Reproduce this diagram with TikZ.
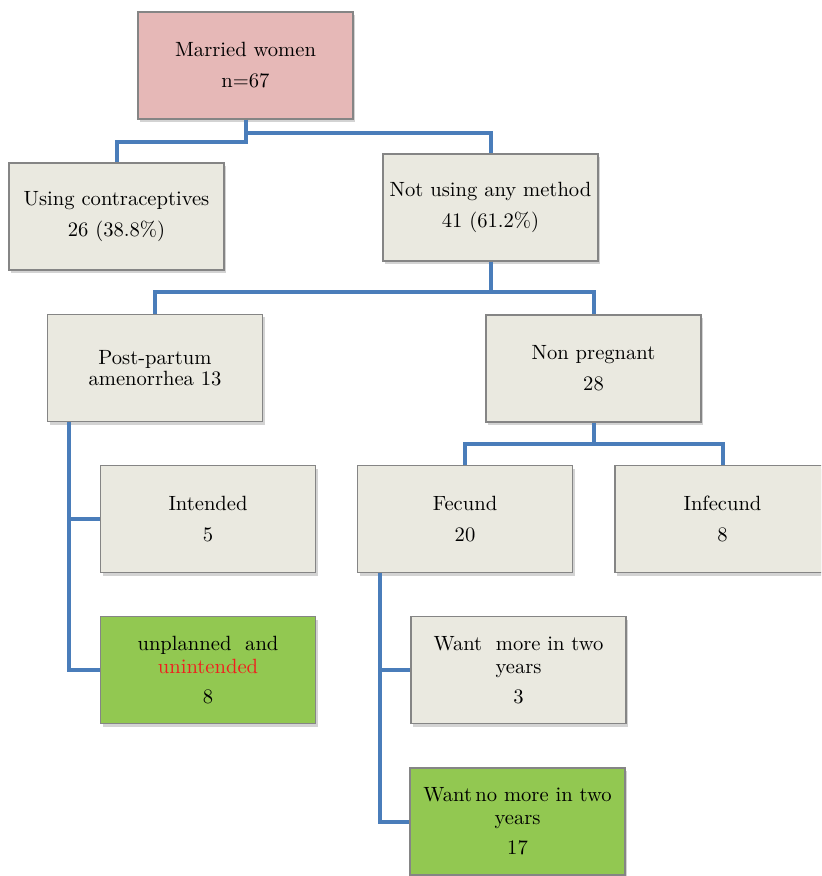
\documentclass[tikz,border=0pt]{standalone}
\usetikzlibrary{calc,shadows}
\definecolor{boxgrey}{HTML}{EAE9E0}
\definecolor{boxpink}{HTML}{E6B8B7}
\definecolor{boxgreen}{HTML}{92C851}
\definecolor{boxline}{HTML}{858585}
\definecolor{linkblue}{HTML}{4A7DBA}
\definecolor{txtred}{HTML}{F01E1E}
\begin{document}
\begin{tikzpicture}[x=0.5pt,y=-0.5pt,
  box/.style={draw=boxline,line width=0.6pt,fill=boxgrey,
    minimum width=107.5pt,minimum height=53.5pt,inner sep=0pt,align=center,
    font=\fontsize{10.3}{11.5}\selectfont,
    drop shadow={shadow xshift=1pt,shadow yshift=-1.5pt,opacity=0.35}},
  link/.style={draw=linkblue,line width=2pt}]
\clip (0,0) rectangle (821,876);
%top
\node[box,fill=boxpink] (married) at (245.5,65.5) {Married women\\[4pt]n=67};
%level 1
\node[box] (using) at (116.5,216.5) {Using contraceptives\\[4pt]26 (38.8\%)};
\node[box] (notusing) at (490.5,207.5) {Not using any method\\[4pt]41 (61.2\%)};
%level 2
\node[box] (postpartum) at (155,368) {Post-partum\\[-0.7pt]amenorrhea 13};
\node[box] (nonpreg) at (593.5,368.5) {Non pregnant\\[4pt]28};
%level 3
\node[box] (intended) at (208,519) {Intended\\[4pt]5};
\node[box] (fecund) at (465,519) {Fecund\\[4pt]20};
\node[box] (infecund) at (722.5,519) {Infecund\\[4pt]8};
%level 4
\node[box,fill=boxgreen] (unplanned) at (208,670)
  {unplanned~ and\\\textcolor{txtred}{unintended}\\[3.5pt]8};
\node[box] (wantmore) at (518.5,670) {Want~ more in two\\years\\[3.5pt]3};
\node[box,fill=boxgreen] (wantno) at (517.5,821.5)
  {Want\,no more in two\\years\\[3.5pt]17};

\draw[link] (married.south) -- ++(0,13) -| (notusing.north);
\draw[link] (married.south) -- ++(0,22) -| (using.north);
\draw[link] (notusing.south) -- ++(0,30) -| (postpartum.north);
\draw[link] (notusing.south) -- ++(0,30) -| (nonpreg.north);
\draw[link] (nonpreg.south) -- ++(0,21) -| (fecund.north);
\draw[link] (nonpreg.south) -- ++(0,21) -| (infecund.north);
\coordinate (ppdrop) at ($(postpartum.south west)+(22,0)$);
\draw[link] (ppdrop) |- (intended.west);
\draw[link] (ppdrop) |- (unplanned.west);
\coordinate (fcdrop) at ($(fecund.south west)+(23,0)$);
\draw[link] (fcdrop) |- (wantmore.west);
\draw[link] (fcdrop) |- (wantno.west);
\end{tikzpicture}
\end{document}
